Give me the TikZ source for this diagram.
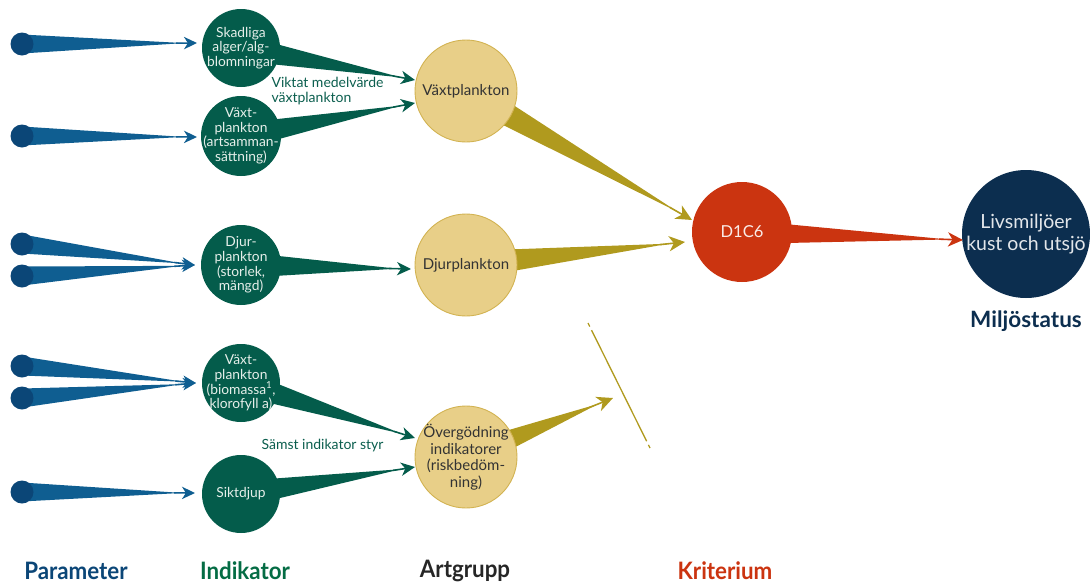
\documentclass[tikz,border=0pt]{standalone}
\usepackage{fontspec}
\setmainfont{Lato}
\newfontfamily\labfont[FakeStretch=0.93]{Lato}
\usetikzlibrary{calc,arrows.meta}
\pgfdeclarelayer{background}
\pgfsetlayers{background,main}
\definecolor{pdot}{HTML}{0B4677}
\definecolor{pwedge}{HTML}{0F5E91}
\definecolor{indg}{HTML}{045C4B}
\definecolor{indtxt}{HTML}{E6EFEA}
\definecolor{tanf}{HTML}{E8CF88}
\definecolor{tanb}{HTML}{D2B352}
\definecolor{tanw}{HTML}{B09A1E}
\definecolor{krit}{HTML}{CB3410}
\definecolor{navy}{HTML}{0C2E4F}
\definecolor{lbl}{HTML}{0B5E4E}
\newcommand\taper[5]{% start, tip, half width, colour, arrow length
  \fill[#4] ($(#1)!#3!90:(#2)$) -- ($(#2)!#5!(#1)$) -- ($(#1)!#3!-90:(#2)$) -- cycle;
  \draw[#4, line width=1.6pt, -{Stealth[length=#5,width=0.95*#5,inset=0.3*#5]}] ($(#2)!1.6*#5!(#1)$) -- (#2);}
\begin{document}
\begin{tikzpicture}[x=1pt,y=-1pt,
  dot/.style={circle, fill=pdot, minimum size=23pt, inner sep=0pt},
  ind/.style={circle, fill=indg, text=indtxt, minimum size=78pt, inner sep=-20pt, align=center,
    font=\fontsize{13.8}{14.6}\selectfont},
  art/.style={circle, fill=tanf, draw=tanb, line width=0.9pt, minimum size=102pt, inner sep=-20pt,
    align=center, text=black!80, font=\fontsize{15}{16.5}\selectfont},
  lab/.style={font=\fontsize{14}{14.5}\selectfont, text=lbl, align=left},
  foot/.style={font=\labfont\bfseries\fontsize{24}{26}\selectfont}]
\useasboundingbox (0,0) rectangle (1090,584);

% indicators
\node[ind] (i1) at (241,48) {Skadliga\\alger/alg-\\blomningar};
\node[ind, minimum size=80pt] (i2) at (241,136) {Växt-\\plankton\\(artsamman-\\sättning)};
\node[ind, minimum size=80pt] (i3) at (241,265) {Djur-\\plankton\\(storlek,\\mängd)};
\node[ind] (i4) at (241,383) {Växt-\\plankton\\(biomassa\textsuperscript{1},\\klorofyll a)};
\node[ind, minimum size=78pt] (i5) at (241,494) {Siktdjup};

% species groups
\node[art] (a1) at (466,91) {Växtplankton};
\node[art] (a2) at (466,265) {Djurplankton};
\node[art] (a3) at (466,457) {Övergödning\\indikatorer\\(riskbedöm-\\ning)};

% criterion and status
\node[circle, fill=krit, minimum size=100pt, inner sep=0pt, text=white!90!krit,
  font=\fontsize{16.5}{18}\selectfont] (k) at (742,232) {D1C6};
\node[circle, fill=navy, minimum size=128pt, inner sep=-30pt, align=center, text=white!88!navy,
  font=\fontsize{19.5}{22}\selectfont] (m) at (1026,234) {Livsmiljöer\\kust och utsjö};
\node[font=\bfseries\fontsize{22.5}{24}\selectfont, text=navy] (ms) at (1026,321) {Miljöstatus};

% parameter dots
\node[dot] (p1) at (22,44) {};
\node[dot] (p2) at (22,136) {};
\node[dot] (p3) at (22,244) {};
\node[dot] (p4) at (22,276) {};
\node[dot] (p5) at (22,366) {};
\node[dot] (p6) at (22,398) {};
\node[dot] (p7) at (22,492) {};

% tip coordinates
\coordinate (b1) at ($(i1.center)+(-44,-5)$);
\coordinate (b2) at ($(i2.center)+(-44,1)$);
\coordinate (b3) at ($(i3.center)+(-46,0)$);
\coordinate (b4) at ($(i4.center)+(-45,0)$);
\coordinate (b5) at ($(i5.center)+(-46,-1)$);
\coordinate (g1) at ($(a1.center)+(-51,-11)$);
\coordinate (g2) at ($(a1.center)+(-51,12)$);
\coordinate (g3) at ($(a2.center)+(-55,4)$);
\coordinate (g4) at ($(a3.center)+(-51,-19)$);
\coordinate (g5) at ($(a3.center)+(-51,10)$);
\coordinate (t1) at ($(k.center)+(-50,-12)$);
\coordinate (t2) at ($(k.center)+(-57,10)$);
\coordinate (t3) at (613,398);
\coordinate (r1) at ($(m.center)+(-63,6)$);
\coordinate (d1) at (588,323);
\coordinate (d2) at (650,448);

\begin{pgfonlayer}{background}
  \taper{p1}{b1}{9.5pt}{pwedge}{13pt}
  \taper{p2}{b2}{9.5pt}{pwedge}{13pt}
  \taper{p3}{b3}{9.5pt}{pwedge}{13pt}
  \taper{p4}{b3}{9.5pt}{pwedge}{13pt}
  \taper{p5}{b4}{9.5pt}{pwedge}{13pt}
  \taper{p6}{b4}{9.5pt}{pwedge}{13pt}
  \taper{p7}{b5}{9.5pt}{pwedge}{13pt}
  \taper{i1}{g1}{13pt}{indg}{14pt}
  \taper{i2}{g2}{13pt}{indg}{14pt}
  \taper{i3}{g3}{13pt}{indg}{14pt}
  \taper{i4}{g4}{13pt}{indg}{14pt}
  \taper{i5}{g5}{13pt}{indg}{14pt}
  \taper{a1}{t1}{14pt}{tanw}{16pt}
  \taper{a2}{t2}{14pt}{tanw}{16pt}
  \taper{a3}{t3}{14pt}{tanw}{16pt}
  \taper{k}{r1}{12pt}{krit}{15pt}
\end{pgfonlayer}
\draw[tanw, line width=1.3pt, dash pattern=on 4pt off 4pt on 124pt off 4pt on 4pt] (d1) -- (d2);

% labels
\node[lab, anchor=west] (l1) at (268,91) {Viktat medelvärde\\växtplankton};
\node[lab, anchor=west] (l2) at (258,446) {Sämst indikator styr};

% footer
\node[foot, text=pdot] (f1) at (76,571) {Parameter};
\node[foot, text=indg!90!green] (f2) at (245,571) {Indikator};
\node[foot, text=black!85] (f3) at (465,571) {Artgrupp};
\node[foot, text=krit] (f4) at (725,571) {Kriterium};
\end{tikzpicture}
\end{document}
